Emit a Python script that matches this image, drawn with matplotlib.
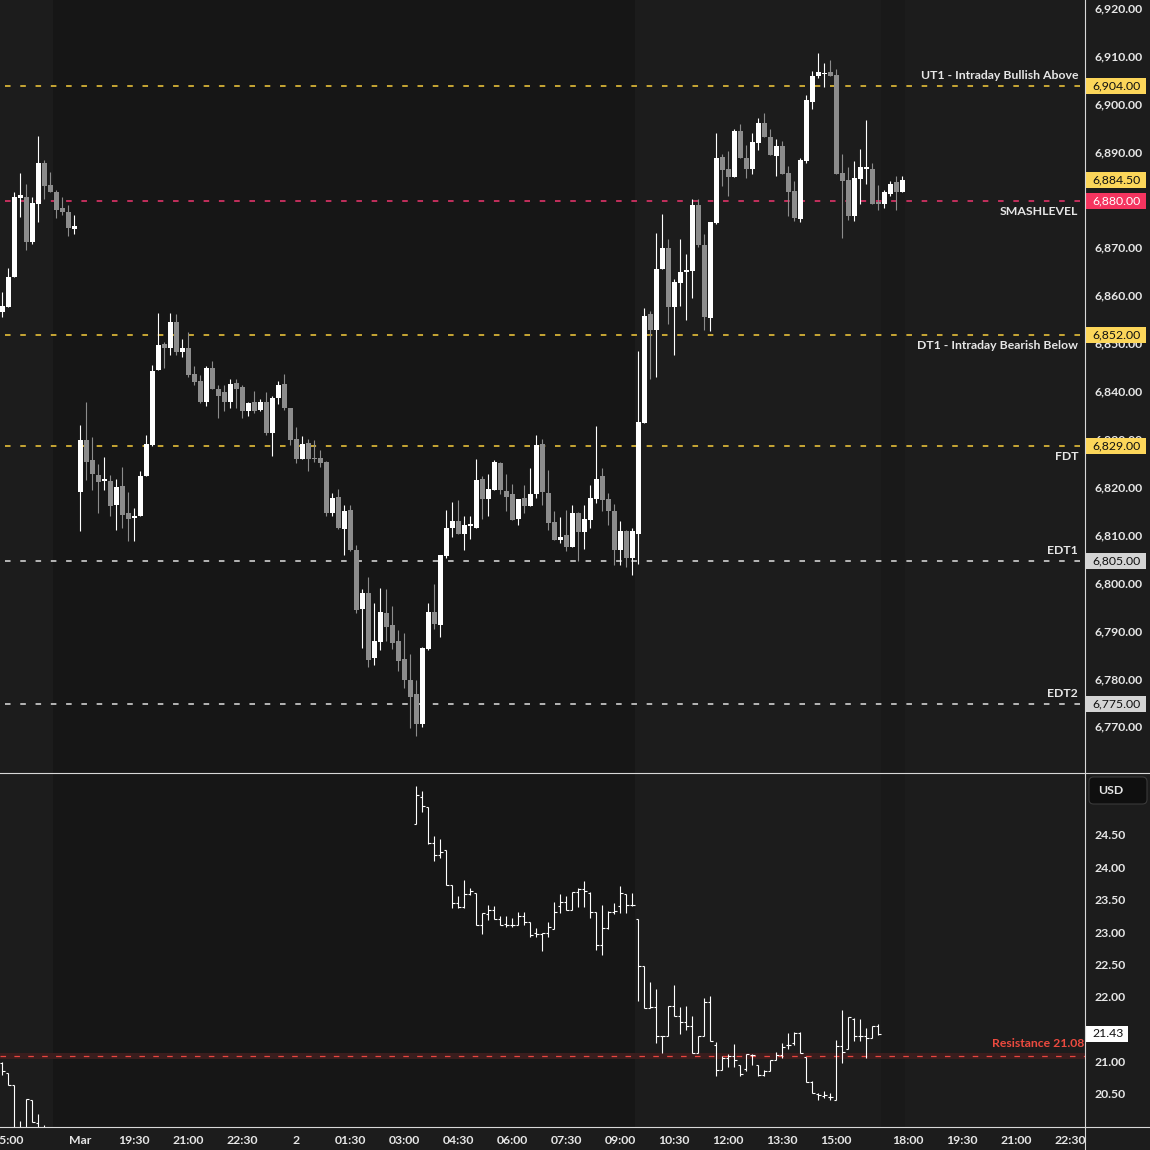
import matplotlib.pyplot as plt
import numpy as np
from matplotlib.patches import Rectangle, FancyBboxPatch
from matplotlib.lines import Line2D
from matplotlib.transforms import blended_transform_factory, ScaledTranslation

plt.rcParams['font.family'] = ['Lato', 'DejaVu Sans']
plt.rcParams['lines.scale_dashes'] = False

# ES 10-minute candles (bar 0 = Fri 14:50, bar 13 = Sun 18:00 session open)
es_open = [6856.9, 6858.0, 6864.2, 6880.7, 6880.9, 6871.4, 6879.5, 6888.0, 6883.4, 6881.9,
           6878.6, 6877.8, 6874.2, 6819.4, 6830.1, 6825.9, 6822.9, 6821.7, 6821.7, 6816.5,
           6820.5, 6814.9, 6813.8, 6814.2, 6822.6, 6829.2, 6844.8, 6850.3, 6849.4, 6854.9,
           6848.6, 6849.4, 6844.0, 6842.5, 6838.2, 6845.1, 6840.9, 6840.1, 6838.0, 6842.0,
           6841.3, 6836.3, 6838.0, 6836.5, 6838.0, 6831.7, 6839.0, 6841.9, 6836.9, 6830.3,
           6826.3, 6829.6, 6826.5, 6826.5, 6825.5, 6814.9, 6818.2, 6811.5, 6815.5, 6807.3,
           6794.9, 6798.2, 6784.6, 6788.0, 6794.0, 6791.5, 6788.2, 6784.4, 6780.1, 6777.1,
           6770.9, 6786.5, 6794.2, 6791.5, 6805.9, 6811.7, 6813.2, 6810.5, 6812.3, 6811.7,
           6822.1, 6817.8, 6819.8, 6825.3, 6819.6, 6818.8, 6813.6, 6818.0, 6816.3, 6818.8,
           6829.4, 6819.2, 6813.0, 6809.2, 6810.3, 6807.8, 6814.9, 6810.9, 6813.4, 6817.8,
           6822.6, 6817.8, 6815.3, 6807.3, 6811.1, 6805.5, 6810.5, 6833.8, 6856.5, 6853.2,
           6865.9, 6870.3, 6858.0, 6863.0, 6865.3, 6865.5, 6879.2, 6870.9, 6855.7, 6875.5,
           6889.2, 6886.7, 6885.1, 6894.6, 6889.0, 6886.7, 6892.1, 6896.3, 6893.4, 6889.4,
           6891.5, 6885.9, 6882.1, 6876.3, 6888.4, 6900.7, 6906.1, 6906.6, 6906.9, 6906.3,
           6885.9, 6884.4, 6876.9, 6884.6, 6886.8, 6886.7, 6879.8, 6879.4, 6881.5, 6884.0,
           6881.9]
es_high = [6861.1, 6866.1, 6882.0, 6885.9, 6883.5, 6880.9, 6893.6, 6888.6, 6886.1, 6882.4,
           6880.9, 6879.2, 6877.1, 6833.2, 6838.2, 6830.7, 6825.1, 6826.7, 6822.8, 6822.1,
           6824.6, 6819.4, 6815.9, 6823.8, 6831.3, 6845.8, 6856.7, 6850.7, 6856.7, 6856.5,
           6851.3, 6852.8, 6845.7, 6843.8, 6845.7, 6846.7, 6841.7, 6841.7, 6843.0, 6843.0,
           6841.7, 6838.2, 6840.3, 6838.8, 6840.1, 6839.4, 6842.5, 6844.0, 6836.9, 6832.8,
           6830.9, 6830.3, 6830.1, 6828.0, 6825.7, 6819.2, 6820.0, 6816.7, 6816.5, 6808.2,
           6799.0, 6801.5, 6796.1, 6799.2, 6799.0, 6795.5, 6790.5, 6789.9, 6785.5, 6780.1,
           6786.9, 6796.1, 6800.1, 6806.1, 6815.5, 6817.2, 6817.6, 6814.4, 6814.4, 6826.3,
           6822.6, 6823.0, 6825.9, 6825.5, 6823.0, 6820.9, 6817.8, 6820.7, 6824.4, 6831.3,
           6830.3, 6824.0, 6815.3, 6814.0, 6815.5, 6816.5, 6815.1, 6816.7, 6820.7, 6833.0,
           6824.4, 6819.2, 6816.9, 6813.2, 6811.3, 6811.7, 6848.8, 6857.8, 6857.1, 6873.4,
           6877.4, 6872.1, 6863.8, 6872.1, 6869.0, 6880.5, 6880.5, 6873.2, 6875.7, 6894.2,
           6889.9, 6890.5, 6895.1, 6896.1, 6891.7, 6894.2, 6897.3, 6898.4, 6895.1, 6893.0,
           6892.6, 6887.3, 6884.2, 6889.0, 6902.1, 6907.1, 6910.9, 6908.8, 6909.4, 6907.6,
           6889.9, 6887.1, 6888.4, 6890.9, 6896.9, 6888.0, 6883.4, 6882.4, 6884.2, 6885.3,
           6885.3]
es_low = [6855.9, 6858.0, 6864.2, 6876.7, 6869.9, 6871.0, 6875.7, 6880.5, 6881.9, 6876.5,
          6877.1, 6872.8, 6873.2, 6811.1, 6821.9, 6819.7, 6814.9, 6819.7, 6814.2, 6811.3,
          6811.7, 6809.0, 6809.0, 6814.2, 6822.6, 6829.0, 6844.8, 6845.1, 6848.0, 6848.0,
          6847.5, 6843.4, 6841.7, 6837.8, 6837.2, 6840.8, 6834.7, 6836.3, 6836.9, 6836.9,
          6834.7, 6835.1, 6835.7, 6836.3, 6831.3, 6826.9, 6837.6, 6836.5, 6829.2, 6825.3,
          6826.3, 6823.8, 6825.5, 6824.6, 6814.2, 6814.4, 6811.5, 6806.1, 6806.9, 6794.0,
          6786.7, 6782.8, 6783.2, 6786.3, 6788.2, 6786.5, 6781.9, 6778.4, 6770.1, 6768.4,
          6770.3, 6786.3, 6790.7, 6789.0, 6805.5, 6810.0, 6810.5, 6807.3, 6809.4, 6811.7,
          6813.6, 6814.2, 6819.8, 6819.0, 6815.3, 6813.4, 6812.4, 6814.9, 6816.3, 6818.0,
          6816.5, 6811.3, 6809.2, 6808.6, 6806.9, 6807.8, 6804.9, 6807.5, 6811.9, 6817.1,
          6815.3, 6812.4, 6804.0, 6804.0, 6803.6, 6801.9, 6804.2, 6833.8, 6842.8, 6843.4,
          6865.9, 6854.4, 6848.0, 6858.2, 6855.3, 6859.8, 6870.5, 6853.2, 6853.0, 6875.3,
          6883.2, 6881.1, 6885.1, 6889.0, 6884.9, 6885.7, 6890.7, 6893.4, 6889.6, 6885.3,
          6885.7, 6876.9, 6875.9, 6875.7, 6888.0, 6899.2, 6905.7, 6903.8, 6906.1, 6885.7,
          6872.4, 6876.1, 6875.9, 6879.4, 6883.6, 6879.4, 6878.2, 6878.6, 6881.1, 6878.2,
          6881.9]
es_close = [6858.2, 6864.2, 6880.9, 6881.25, 6871.5, 6879.6, 6888.0, 6883.2, 6881.9, 6878.2,
            6877.8, 6874.4, 6874.9, 6830.1, 6825.5, 6823.0, 6821.5, 6821.9, 6816.3, 6820.3,
            6814.6, 6813.6, 6814.4, 6822.6, 6829.4, 6844.6, 6850.0, 6849.4, 6854.9, 6848.6,
            6849.4, 6843.8, 6842.3, 6838.2, 6845.1, 6840.8, 6839.4, 6838.2, 6841.9, 6840.8,
            6836.3, 6837.8, 6836.3, 6838.2, 6831.7, 6839.0, 6841.7, 6836.9, 6830.1, 6826.3,
            6829.4, 6826.1, 6826.1, 6825.3, 6814.9, 6818.0, 6811.7, 6815.3, 6807.2, 6794.6,
            6798.2, 6784.2, 6788.2, 6794.2, 6791.1, 6787.8, 6784.0, 6780.1, 6776.5, 6770.9,
            6786.7, 6794.2, 6791.7, 6806.1, 6811.9, 6813.2, 6810.5, 6812.5, 6812.5, 6821.9,
            6817.8, 6820.0, 6825.5, 6819.8, 6818.2, 6813.4, 6817.8, 6816.3, 6819.0, 6829.2,
            6819.4, 6812.8, 6809.2, 6810.0, 6807.8, 6814.9, 6810.9, 6813.6, 6818.0, 6822.1,
            6817.6, 6815.3, 6807.2, 6811.1, 6805.5, 6811.1, 6834.0, 6856.1, 6853.2, 6865.9,
            6870.3, 6858.0, 6863.2, 6865.3, 6865.7, 6879.2, 6870.9, 6855.9, 6875.7, 6889.0,
            6886.5, 6885.1, 6894.6, 6889.0, 6886.7, 6892.3, 6896.3, 6893.4, 6889.6, 6891.5,
            6885.7, 6881.9, 6876.5, 6888.6, 6901.1, 6906.1, 6906.9, 6906.8, 6906.1, 6885.7,
            6884.2, 6876.9, 6884.9, 6887.1, 6887.0, 6879.4, 6879.4, 6881.9, 6883.6, 6881.9,
            6884.5]

# VIX bars (no prints between Friday close and 03:20 Monday)
vix_bars = list(range(0, 8)) + list(range(69, 147))
vix_open = [20.98, 20.83, 20.64, 19.80, 19.90, 20.40, 20.05, 19.98,
            24.67, 25.08, 24.93, 24.37, 24.19, 24.27, 23.73, 23.45, 23.39, 23.59,
            23.60, 23.11, 23.28, 23.34, 23.20, 23.13, 23.11, 23.11, 23.24, 23.16,
            22.98, 22.97, 22.99, 23.04, 23.40, 23.47, 23.34, 23.62, 23.66, 23.60,
            23.31, 22.80, 23.06, 23.31, 23.40, 23.59, 23.42, 23.20, 22.47, 21.82,
            21.84, 21.40, 21.40, 21.86, 21.71, 21.61, 21.55, 21.14, 21.39, 21.92,
            21.25, 20.87, 21.05, 21.09, 20.95, 20.88, 21.10, 20.95, 20.80, 20.86,
            21.02, 21.10, 21.25, 21.28, 21.44, 21.07, 20.68, 20.50, 20.47, 20.46,
            20.40, 21.24, 21.19, 21.65, 21.40, 21.40, 21.36, 21.55]
vix_high = [21.00, 20.83, 20.64, 20.09, 20.42, 20.40, 20.19, 20.02,
            25.25, 25.18, 24.93, 24.48, 24.44, 24.27, 23.73, 23.55, 23.80, 23.68,
            23.60, 23.29, 23.42, 23.40, 23.24, 23.24, 23.21, 23.31, 23.31, 23.16,
            23.06, 22.98, 23.16, 23.47, 23.59, 23.55, 23.62, 23.68, 23.79, 23.62,
            23.31, 23.42, 23.33, 23.45, 23.71, 23.59, 23.61, 23.20, 22.47, 22.23,
            22.12, 21.40, 21.86, 22.18, 21.84, 21.86, 21.71, 21.39, 21.98, 22.01,
            21.30, 21.09, 21.11, 21.27, 20.95, 21.12, 21.12, 20.95, 20.87, 21.02,
            21.15, 21.29, 21.44, 21.46, 21.46, 21.07, 20.70, 20.51, 20.54, 20.51,
            21.33, 21.79, 21.69, 21.67, 21.65, 21.52, 21.55, 21.58]
vix_low = [20.80, 20.64, 19.70, 19.75, 19.80, 20.07, 19.90, 19.90,
           24.67, 24.85, 24.36, 24.10, 24.15, 23.73, 23.37, 23.37, 23.37, 23.57,
           23.11, 22.97, 23.19, 23.20, 23.11, 23.07, 23.08, 23.11, 23.11, 22.93,
           22.93, 22.70, 22.93, 23.04, 23.30, 23.34, 23.34, 23.39, 23.39, 23.21,
           22.72, 22.64, 23.04, 23.28, 23.29, 23.29, 23.40, 21.93, 21.82, 21.82,
           21.28, 21.14, 21.40, 21.71, 21.42, 21.49, 21.14, 21.14, 21.39, 21.32,
           20.77, 20.87, 20.92, 20.92, 20.78, 20.86, 20.95, 20.78, 20.78, 20.86,
           21.02, 21.05, 21.19, 21.26, 21.13, 20.68, 20.51, 20.41, 20.43, 20.40,
           20.40, 20.98, 21.19, 21.31, 21.31, 21.05, 21.36, 21.41]
vix_close = [20.86, 20.64, 19.80, 19.95, 20.42, 20.07, 19.98, 19.95,
             25.11, 24.94, 24.37, 24.19, 24.24, 23.73, 23.45, 23.39, 23.59, 23.64,
             23.11, 23.29, 23.34, 23.20, 23.11, 23.11, 23.11, 23.24, 23.16, 22.96,
             22.97, 22.99, 23.08, 23.31, 23.47, 23.34, 23.62, 23.66, 23.64, 23.31,
             22.80, 23.06, 23.31, 23.33, 23.60, 23.42, 23.41, 22.47, 21.82, 21.84,
             21.40, 21.40, 21.86, 21.71, 21.61, 21.55, 21.14, 21.39, 21.92, 21.32,
             20.87, 21.05, 21.09, 21.02, 20.81, 21.12, 21.10, 20.80, 20.86, 21.02,
             21.10, 21.22, 21.26, 21.44, 21.13, 20.68, 20.52, 20.48, 20.48, 20.45,
             21.24, 21.15, 21.69, 21.40, 21.40, 21.36, 21.55, 21.43]

# key levels on the ES chart
level_names = ['UT1 - Intraday Bullish Above', 'SMASHLEVEL', 'DT1 - Intraday Bearish Below',
               'FDT', 'EDT1', 'EDT2']
level_values = [6904, 6880, 6852, 6829, 6805, 6775]
level_above = [True, False, False, False, True, True]
level_colors = ['#f7cd3c', '#f0366f', '#f7cd3c', '#f7cd3c', '#e0e0e0', '#e0e0e0']
tag_colors = ['#fcd65a', '#f5345f', '#fcd65a', '#fcd65a', '#d4d4d4', '#d4d4d4']
tag_text = ['#111111', '#ffffff', '#111111', '#111111', '#111111', '#111111']

resistance = 21.08

# time axis
time_pos = [1, 13, 22, 31, 40, 49, 58, 67, 76, 85, 94, 103, 112, 121, 130, 139, 151, 160, 169, 178]
time_labels = ['15:00', 'Mar', '19:30', '21:00', '22:30', '2', '01:30', '03:00', '04:30', '06:00',
               '07:30', '09:00', '10:30', '12:00', '13:30', '15:00', '18:00', '19:30', '21:00', '22:30']

# session shading (bar index ranges)
shade_dark = (8.5, 105.5)
shade_mid = (146.5, 150.5)

W, H = 1150, 1150
BG = '#1c1c1c'
TXT = '#e6e6e6'
FS = 8.8
WT = 'bold'

fig = plt.figure(figsize=(W / 100, H / 100), dpi=100, facecolor=BG)
ax1 = fig.add_axes([0, 1 - 773 / H, 1085 / W, 773 / H])
ax2 = fig.add_axes([0, 1 - 1127 / H, 1085 / W, 354 / H])

xmin, xmax = -0.38, 180.45
for ax in (ax1, ax2):
    ax.set_facecolor(BG)
    ax.set_xlim(xmin, xmax)
    ax.axvspan(*shade_dark, color='#161616', lw=0, zorder=0)
    ax.axvspan(*shade_mid, color='#191919', lw=0, zorder=0)
    for s in ax.spines.values():
        s.set_visible(False)

ax1.set_ylim(6760.66, 6922.01)
ax2.set_ylim(19.99, 25.455)

# candles
o = np.array(es_open)
hi = np.array(es_high)
lo = np.array(es_low)
c = np.array(es_close)
x = np.arange(len(o))
cols = np.where(c >= o, '#ffffff', '#8c8c8c')
ax1.vlines(x, lo, hi, colors=cols, lw=0.8, zorder=3)
ax1.bar(x, np.maximum(np.abs(c - o), 0.25), bottom=np.minimum(o, c), width=0.78,
        color=cols, linewidth=0, zorder=4)

# VIX OHLC bars
vx = np.array(vix_bars)
ax2.vlines(vx, vix_low, vix_high, colors='#ffffff', lw=0.8, zorder=3)
ax2.hlines(vix_open, vx - 0.4, vx, colors='#ffffff', lw=0.8, zorder=3)
ax2.hlines(vix_close, vx, vx + 0.4, colors='#ffffff', lw=0.8, zorder=3)

# levels
tr1 = blended_transform_factory(ax1.transAxes, ax1.transData)
tag_h1 = 16 / 4.79
for name, val, above, lc, tc, tt in zip(level_names, level_values, level_above,
                                        level_colors, tag_colors, tag_text):
    ax1.hlines(val, 0.5, xmax, colors=lc, lw=1.1, linestyles=(0, (4, 7)), zorder=2)
    ax1.annotate(name, xy=(1, val), xycoords=tr1, xytext=(-5, 7.5 if above else -7.5),
                 textcoords='offset points', ha='right', va='center',
                 color=TXT, fontsize=FS, fontweight=WT)
    ax1.add_patch(Rectangle((1086 / 1085, val - tag_h1 / 2), 60 / 1085, tag_h1,
                            transform=tr1, facecolor=tc, lw=0, clip_on=False, zorder=10))
    ax1.text(1092 / 1085, val, f'{val:,.2f}', transform=tr1, ha='left', va='center',
             color=tt, fontsize=FS, zorder=11, clip_on=False)

last = es_close[-1]
ax1.add_patch(Rectangle((1086 / 1085, last - tag_h1 / 2), 60 / 1085, tag_h1,
                        transform=tr1, facecolor='#fcd65a', lw=0, clip_on=False, zorder=10))
ax1.text(1092 / 1085, last, f'{last:,.2f}', transform=tr1, ha='left', va='center',
         color='#111111', fontsize=FS, zorder=11, clip_on=False)

# resistance on VIX
tr2 = blended_transform_factory(ax2.transAxes, ax2.transData)
ax2.axhspan(resistance - 0.035, resistance + 0.05, color='#3a1d1d', lw=0, zorder=1)
ax2.axhline(resistance, color='#e8453f', lw=0.9, ls=(0, (4, 6)), zorder=2)
ax2.annotate(f'Resistance {resistance:.2f}', xy=(1084 / 1085, resistance), xycoords=tr2,
             xytext=(0, 9.5), textcoords='offset points', ha='right', va='center',
             color='#ec4a3f', fontsize=FS, fontweight=WT)

vlast = vix_close[-1]
tag_h2 = 16 / 64.8
ax2.add_patch(Rectangle((1086 / 1085, vlast - tag_h2 / 2), 42 / 1085, tag_h2,
                        transform=tr2, facecolor='#ffffff', lw=0, clip_on=False, zorder=10))
ax2.text(1092 / 1085, vlast, f'{vlast:.2f}', transform=tr2, ha='left', va='center',
         color='#111111', fontsize=FS, zorder=11, clip_on=False)

# axes ticks
ax1.yaxis.tick_right()
ax1.set_yticks(np.arange(6770, 6921, 10))
ax1.set_yticklabels([f'{v:,.2f}' for v in np.arange(6770, 6921, 10)])
ax1.tick_params(axis='y', length=0, pad=6.5, labelsize=FS, labelcolor=TXT)
ax1.set_xticks([])

ax2.yaxis.tick_right()
vt = np.arange(20.5, 24.51, 0.5)
ax2.set_yticks(vt)
ax2.set_yticklabels([f'{v:.2f}' for v in vt])
ax2.tick_params(axis='y', length=0, pad=6.5, labelsize=FS, labelcolor=TXT)
ax2.set_xticks(time_pos)
ax2.set_xticklabels(time_labels)
ax2.tick_params(axis='x', length=0, pad=5.5, labelsize=FS, labelcolor=TXT)

# price-axis labels of the upper pane sit slightly above their level
lift = ScaledTranslation(0, 2 / 100, fig.dpi_scale_trans)
for lab in ax1.get_yticklabels():
    lab.set_fontweight(WT)
    lab.set_transform(lab.get_transform() + lift)
for lab in ax2.get_yticklabels() + ax2.get_xticklabels():
    lab.set_fontweight(WT)

# frame lines
for yy in (773, 1127):
    fig.add_artist(Line2D([0, 1], [1 - yy / H] * 2, color='#d8d8d8', lw=0.8,
                          transform=fig.transFigure))
fig.add_artist(Line2D([1085 / W] * 2, [0, 1], color='#d8d8d8', lw=0.8,
                      transform=fig.transFigure))

# currency box
fig.add_artist(FancyBboxPatch((1089 / W, 1 - 804 / H), 58 / W, 27 / H,
                              boxstyle='round,pad=0,rounding_size=0.004',
                              facecolor='#0f0f0f', edgecolor='#3a3a3a', lw=0.8,
                              transform=fig.transFigure))
fig.text(1098 / W, 1 - 791 / H, 'USD', ha='left', va='center', color=TXT,
         fontsize=FS, fontweight=WT)

fig.savefig('out.png', dpi=100, facecolor=BG)
